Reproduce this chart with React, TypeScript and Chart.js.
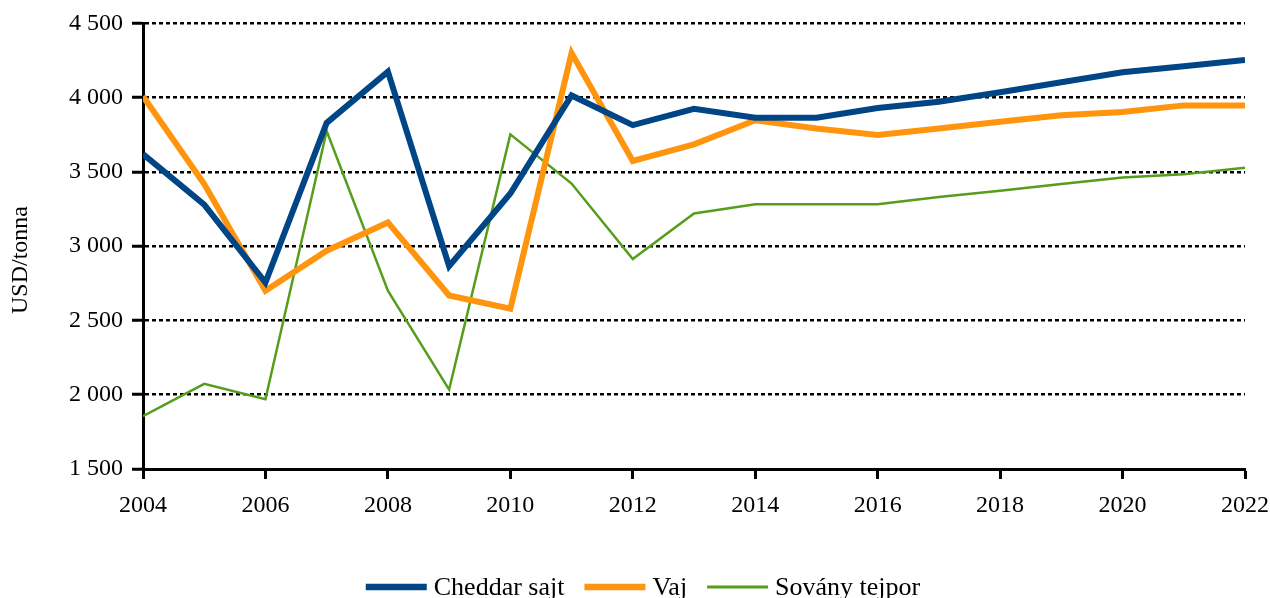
import React, { useEffect, useRef } from 'react';
import { Chart, registerables } from 'chart.js';

Chart.register(...registerables);

const years = [2004, 2005, 2006, 2007, 2008, 2009, 2010, 2011, 2012, 2013, 2014, 2015, 2016, 2017, 2018, 2019, 2020, 2021, 2022];
const cheddar = [3620, 3280, 2755, 3830, 4175, 2865, 3355, 4015, 3815, 3925, 3865, 3865, 3930, 3972, 4037, 4104, 4171, 4211, 4254];
const vaj = [4010, 3418, 2700, 2970, 3160, 2668, 2579, 4300, 3574, 3686, 3848, 3793, 3748, 3793, 3838, 3881, 3903, 3948, 3948];
const sovany = [1856, 2073, 1970, 3775, 2700, 2035, 3753, 3422, 2914, 3220, 3283, 3283, 3283, 3332, 3373, 3418, 3462, 3485, 3529];
const seriesNames = ['Cheddar sajt', 'Vaj', 'Sovány tejpor'];
const yAxisTitle = 'USD/tonna';
const yMin = 1500;
const yMax = 4500;
const yStep = 500;
const xMin = 2004;
const xMax = 2022;
const xStep = 2;

const FONT = '"Liberation Serif", "Times New Roman", serif';

const toPoints = (vals: number[]) => vals.map((v, i) => ({ x: years[i], y: v }));
const fmtThousands = (v: number) => String(v).replace(/\B(?=(\d{3})+(?!\d))/g, ' ');

const decorations = {
  id: 'decorations',
  afterDraw(chart: any, _args: any, opts: any) {
    const ctx = chart.ctx as CanvasRenderingContext2D;
    ctx.save();
    ctx.font = `${opts.titleSize}px ${FONT}`;
    ctx.fillStyle = '#000';
    ctx.textAlign = 'center';
    ctx.textBaseline = 'middle';
    ctx.translate(opts.titleX, opts.titleY);
    ctx.rotate(-Math.PI / 2);
    ctx.fillText(opts.title, 0, 0);
    ctx.restore();

    ctx.save();
    ctx.font = `${opts.fontSize}px ${FONT}`;
    const lineLen = 61;
    const gapText = 7;
    const gapItem = 20;
    const items = chart.data.datasets.map((ds: any) => ({
      text: ds.label as string,
      color: ds.borderColor as string,
      w: ds.borderWidth as number,
      tw: ctx.measureText(ds.label).width,
    }));
    const total = items.reduce((s: number, it: any) => s + lineLen + gapText + it.tw, 0) + gapItem * (items.length - 1);
    let x = opts.centerX - total / 2;
    const y = opts.y;
    items.forEach((it: any) => {
      ctx.strokeStyle = it.color;
      ctx.lineWidth = it.w + 0.5;
      ctx.lineCap = 'butt';
      ctx.beginPath();
      ctx.moveTo(x, y);
      ctx.lineTo(x + lineLen, y);
      ctx.stroke();
      ctx.fillStyle = '#000';
      ctx.textBaseline = 'alphabetic';
      ctx.textAlign = 'left';
      ctx.fillText(it.text, x + lineLen + gapText, y + 7.5);
      x += lineLen + gapText + it.tw + gapItem;
    });
    ctx.restore();
  },
};

export default function App() {
  const ref = useRef<HTMLCanvasElement | null>(null);
  useEffect(() => {
    if (!ref.current) return;
    const chart = new Chart(ref.current, {
      type: 'line',
      data: {
        datasets: [
          {
            label: seriesNames[0],
            data: toPoints(cheddar),
            borderColor: '#004586',
            backgroundColor: '#004586',
            borderWidth: 6,
            pointRadius: 0,
            borderJoinStyle: 'miter',
            tension: 0,
          },
          {
            label: seriesNames[1],
            data: toPoints(vaj),
            borderColor: '#ff950e',
            backgroundColor: '#ff950e',
            borderWidth: 6,
            pointRadius: 0,
            borderJoinStyle: 'miter',
            tension: 0,
          },
          {
            label: seriesNames[2],
            data: toPoints(sovany),
            borderColor: '#579d1c',
            backgroundColor: '#579d1c',
            borderWidth: 2.5,
            pointRadius: 0,
            borderJoinStyle: 'miter',
            tension: 0,
          },
        ],
      },
      options: {
        responsive: false,
        animation: false,
        layout: { padding: { left: 0, right: 25, top: 22, bottom: 0 } },
        plugins: {
          legend: { display: false },
          tooltip: { enabled: false },
          decorations: {
            centerX: 643, y: 587, fontSize: 26,
            title: yAxisTitle, titleX: 21, titleY: 260, titleSize: 24,
          },
        } as any,
        scales: {
          x: {
            type: 'linear',
            min: xMin,
            max: xMax,
            afterFit: (s: any) => { s.height = 129; s.paddingLeft = 0; s.paddingRight = 0; },
            ticks: {
              stepSize: xStep,
              callback: (v: any) => String(v),
              color: '#000',
              font: { family: FONT, size: 24 },
              padding: 12,
              maxRotation: 0,
            },
            grid: {
              drawOnChartArea: false,
              drawTicks: true,
              tickLength: 10,
              tickWidth: 3,
              tickColor: '#000',
            },
            border: { display: true, color: '#000', width: 3 },
          },
          y: {
            type: 'linear',
            min: yMin,
            max: yMax,
            afterFit: (s: any) => { s.width = 143; },
            ticks: {
              stepSize: yStep,
              callback: (v: any) => fmtThousands(Number(v)),
              color: '#000',
              font: { family: FONT, size: 24 },
              padding: 9,
            },
            grid: {
              color: '#000',
              lineWidth: 2.5,
              drawTicks: true,
              tickLength: 11,
              tickWidth: 3,
              tickColor: '#000',
              tickBorderDash: [],
            } as any,
            border: { display: true, color: '#000', width: 3, dash: [4, 3] },
          },
        },
      },
      plugins: [decorations],
    });
    return () => chart.destroy();
  }, []);
  return (
    <div style={{ position: 'absolute', left: 0, top: 0, width: 1270, height: 598, background: '#fff' }}>
      <canvas ref={ref} width={1270} height={598} style={{ display: 'block', width: 1270, height: 598 }} />
    </div>
  );
}
